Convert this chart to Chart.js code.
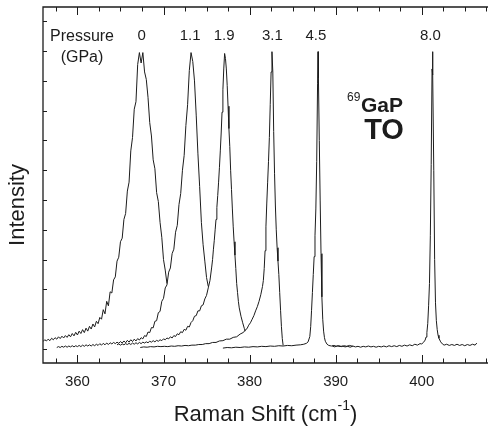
<!DOCTYPE html>
<html>
<head>
<meta charset="utf-8">
<script src="https://cdn.jsdelivr.net/npm/chart.js@4.4.0/dist/chart.umd.min.js"></script>
<style>
  html, body { margin: 0; padding: 0; background: #fff; }
</style>
</head>
<body>
<canvas id="chart" width="488" height="433"></canvas>
<script>
const FONT = '"Liberation Sans", Arial, Helvetica, sans-serif';
const INK = '#1c1c1c';

// pressure (GPa) of each spectrum and where its label sits
const pressures = ['0', '1.1', '1.9', '3.1', '4.5', '8.0'];
const labelShift = [367.45, 373.1, 377.05, 382.65, 387.7, 401.0];
const labelY = 10.5;

const xTicks = [360, 370, 380, 390, 400];

// 0 GPa
const shift0 = [356.0,356.2,356.4,356.6,356.8,357.0,357.2,357.4,357.6,357.8,
  358.0,358.2,358.4,358.6,358.8,359.0,359.2,359.4,359.6,359.8,
  360.0,360.2,360.4,360.6,360.8,361.0,361.2,361.4,361.6,361.8,
  362.0,362.2,362.4,362.6,362.8,363.0,363.2,363.4,363.6,363.8,
  364.0,364.2,364.4,364.6,364.8,365.0,365.2,365.4,365.6,365.8,
  366.0,366.2,366.4,366.6,366.8,367.0,367.2,367.4,367.6,367.8,
  368.0,368.2,368.4,368.6,368.8,369.0,369.2,369.4,369.6,369.8,
  370.0,370.2,370.4];
const int0 = [0.25,0.31,0.27,0.33,0.28,0.36,0.31,0.38,0.33,0.41,
  0.35,0.43,0.37,0.45,0.39,0.48,0.41,0.52,0.44,0.56,
  0.47,0.60,0.52,0.65,0.55,0.70,0.60,0.76,0.67,0.84,
  0.74,0.93,0.85,1.06,1.00,1.32,1.18,1.60,1.45,1.92,
  1.88,2.32,2.42,2.95,3.08,3.60,3.72,4.35,4.55,5.30,
  5.60,6.65,7.10,8.05,8.30,9.55,9.95,9.60,9.95,9.30,
  9.05,8.45,7.60,7.15,6.35,6.05,5.25,4.95,4.25,3.75,
  3.00,2.65,2.20];

// 1.1 GPa
const shift1 = [357.6,357.8,358.0,358.2,358.4,358.6,358.8,359.0,359.2,359.4,
  359.6,359.8,360.0,360.2,360.4,360.6,360.8,361.0,361.2,361.4,
  361.6,361.8,362.0,362.2,362.4,362.6,362.8,363.0,363.2,363.4,
  363.6,363.8,364.0,364.2,364.4,364.6,364.8,365.0,365.2,365.4,
  365.6,365.8,366.0,366.2,366.4,366.6,366.8,367.0,367.2,367.4,
  367.6,367.8,368.0,368.2,368.4,368.6,368.8,369.0,369.2,369.4,
  369.6,369.8,370.0,370.2,370.4,370.6,370.8,371.0,371.2,371.4,
  371.6,371.8,372.0,372.2,372.4,372.6,372.8,373.0,373.2,373.4,
  373.6,373.8,374.0,374.2,374.4,374.6,374.8,375.0,375.2];
const int1 = [0.05,0.08,0.05,0.09,0.06,0.10,0.06,0.10,0.07,0.11,
  0.07,0.11,0.08,0.12,0.08,0.13,0.09,0.14,0.10,0.14,
  0.10,0.15,0.11,0.16,0.12,0.18,0.13,0.19,0.14,0.20,
  0.15,0.21,0.17,0.22,0.18,0.23,0.19,0.25,0.20,0.27,
  0.21,0.29,0.23,0.31,0.25,0.33,0.27,0.35,0.30,0.38,
  0.34,0.45,0.42,0.57,0.55,0.72,0.71,0.93,0.95,1.22,
  1.26,1.60,1.70,2.05,2.15,2.58,2.72,3.20,3.35,3.92,
  4.15,4.85,5.22,6.00,6.50,7.50,8.20,9.35,9.95,9.65,
  9.00,7.85,6.55,5.45,4.25,3.50,2.95,2.40,2.10];

// 1.9 GPa
const shift2 = [364.6,364.8,365.0,365.2,365.4,365.6,365.8,366.0,366.2,366.4,
  366.6,366.8,367.0,367.2,367.4,367.6,367.8,368.0,368.2,368.4,
  368.6,368.8,369.0,369.2,369.4,369.6,369.8,370.0,370.2,370.4,
  370.6,370.8,371.0,371.2,371.4,371.6,371.8,372.0,372.2,372.4,
  372.6,372.8,373.0,373.2,373.4,373.6,373.8,374.0,374.2,374.4,
  374.6,374.8,375.0,375.2,375.4,375.6,
  375.7,375.8,375.9,376.0,376.1,376.2,376.3,376.4,376.5,376.6,
  376.7,376.8,376.9,377.0,377.1,377.2,377.3,377.4,377.5,377.6,
  377.7,377.8,377.9,378.0,378.1,378.2,378.3,378.4,378.5,378.6,
  378.7,378.8,
  379.0,379.2,379.4,379.5];
const int2 = [0.14,0.17,0.13,0.17,0.14,0.18,0.15,0.19,0.15,0.20,
  0.16,0.21,0.17,0.22,0.18,0.23,0.20,0.24,0.21,0.26,
  0.23,0.28,0.24,0.29,0.26,0.31,0.28,0.34,0.31,0.37,
  0.34,0.41,0.37,0.45,0.42,0.51,0.48,0.58,0.55,0.66,
  0.63,0.76,0.74,0.89,0.95,1.10,1.12,1.28,1.28,1.45,
  1.48,1.68,1.80,2.05,2.30,2.75,
  3.00,3.35,3.65,4.00,4.35,4.75,5.15,5.60,6.10,6.65,
  7.25,7.95,8.70,9.40,9.92,9.75,9.40,8.85,8.15,7.40,
  6.80,6.00,5.35,4.70,4.10,3.60,3.15,2.70,2.20,1.90,
  1.60,1.38,
  1.10,0.88,0.68,0.60];

// 3.1 GPa
const shift3 = [367.3,367.7,368.1,368.5,368.9,369.3,369.7,370.1,370.5,370.9,
  371.3,371.7,372.1,372.5,372.9,373.3,373.7,374.1,374.5,374.9,
  375.3,375.7,376.1,376.5,376.9,377.3,377.7,378.1,378.5,378.9,
  379.3,379.5,379.7,379.9,380.1,380.3,380.5,380.7,380.9,381.1,
  381.3,381.5,381.6,381.7,381.8,381.9,382.0,382.1,382.2,382.3,
  382.4,382.5,382.6,382.7,382.8,382.9,383.0,383.1,383.2,383.3,
  383.4,383.5,383.6,383.7,383.8,383.9];
const int3 = [0.05,0.07,0.06,0.08,0.07,0.09,0.08,0.09,0.08,0.10,
  0.09,0.11,0.10,0.12,0.11,0.13,0.13,0.15,0.15,0.18,
  0.18,0.22,0.22,0.27,0.28,0.33,0.33,0.39,0.41,0.50,
  0.56,0.64,0.68,0.80,0.88,1.00,1.12,1.28,1.42,1.60,
  1.82,2.10,2.30,2.70,3.30,4.10,4.90,5.60,6.30,7.10,
  8.20,9.30,9.98,9.30,7.30,5.90,4.80,4.00,3.40,2.95,
  2.50,1.90,1.30,0.75,0.35,0.12];

// 4.5 GPa
const shift4 = [376.9,377.4,377.9,378.4,378.9,379.4,379.9,380.4,380.9,381.4,
  381.9,382.4,382.9,383.4,383.9,384.4,384.9,385.4,385.9,386.3,
  386.6,386.8,387.0,387.1,387.2,387.3,387.4,387.5,387.6,387.7,
  387.8,387.9,387.95,388.0,388.1,388.2,388.3,388.4,388.5,388.6,
  388.7,388.8,389.0,389.2,389.5,389.8,390.1,390.4,390.7,391.0,
  391.3,391.6,392.0];
const int4 = [0.03,0.05,0.04,0.06,0.05,0.07,0.06,0.08,0.07,0.09,
  0.08,0.10,0.09,0.11,0.10,0.12,0.11,0.13,0.14,0.16,
  0.19,0.24,0.42,0.75,1.30,1.90,2.50,3.10,3.80,4.70,
  6.30,8.90,9.98,9.10,7.00,5.00,3.20,1.75,1.00,0.60,
  0.38,0.26,0.16,0.12,0.10,0.12,0.09,0.11,0.08,0.11,
  0.09,0.12,0.09];

// 8.0 GPa
const shift5 = [389.6,389.9,390.2,390.5,390.8,391.1,391.4,391.7,392.0,392.3,
  392.6,392.9,393.2,393.5,393.8,394.1,394.4,394.7,395.0,395.3,
  395.6,395.9,396.2,396.5,396.8,397.1,397.4,397.7,398.0,398.3,
  398.6,398.9,399.2,399.5,399.8,400.0,400.2,400.4,400.5,400.6,
  400.7,400.8,400.9,401.0,401.1,401.2,401.25,401.3,401.4,401.5,
  401.6,401.7,401.8,401.9,402.0,402.2,402.4,402.6,402.9,403.2,
  403.5,403.8,404.1,404.4,404.7,405.0,405.3,405.6,405.9,406.2,
  406.4];
const int5 = [0.10,0.07,0.11,0.08,0.10,0.07,0.09,0.06,0.10,0.07,
  0.09,0.06,0.09,0.07,0.10,0.07,0.09,0.06,0.09,0.07,
  0.10,0.07,0.11,0.08,0.11,0.08,0.12,0.09,0.13,0.10,
  0.14,0.11,0.16,0.13,0.18,0.17,0.22,0.30,0.40,0.55,
  0.85,1.45,2.20,3.80,6.20,9.40,9.98,9.20,6.00,3.00,
  1.55,0.95,0.65,0.46,0.36,0.24,0.17,0.13,0.16,0.12,
  0.15,0.12,0.16,0.12,0.15,0.11,0.15,0.12,0.16,0.13,
  0.20];

const spectra = [
  [shift0, int0], [shift1, int1], [shift2, int2],
  [shift3, int3], [shift4, int4], [shift5, int5]
];

// frame with inward ticks on bottom, top and left
const frame = {
  id: 'frame',
  afterDraw(chart) {
    const {ctx, chartArea: a, scales: {x, y}} = chart;
    ctx.save();
    ctx.strokeStyle = INK;
    ctx.lineWidth = 1.3;
    ctx.beginPath();
    ctx.moveTo(a.right, a.top);
    ctx.lineTo(a.left, a.top);
    ctx.lineTo(a.left, a.bottom);
    ctx.lineTo(a.right, a.bottom);
    ctx.stroke();

    ctx.lineWidth = 1;
    ctx.beginPath();
    for (let k = 0; k <= 20; k++) {
      const v = 357.5 + 2.5 * k;
      const px = Math.round(x.getPixelForValue(v)) + 0.5;
      const len = v % 10 === 0 ? 8 : 4.5;
      ctx.moveTo(px, a.bottom);
      ctx.lineTo(px, a.bottom - len);
      ctx.moveTo(px, a.top);
      ctx.lineTo(px, a.top + len);
    }
    for (let v = 0; v <= 11; v++) {
      const py = Math.round(y.getPixelForValue(v)) + 0.5;
      ctx.moveTo(a.left, py);
      ctx.lineTo(a.left + 4, py);
    }
    ctx.stroke();
    ctx.restore();
  }
};

// labels and axis titles
const notes = {
  id: 'notes',
  afterDraw(chart) {
    const {ctx, chartArea: a, scales: {x, y}} = chart;
    ctx.save();
    ctx.fillStyle = INK;
    ctx.textAlign = 'center';
    ctx.textBaseline = 'middle';

    ctx.font = '15px ' + FONT;
    const ly = y.getPixelForValue(labelY);
    pressures.forEach((p, i) => ctx.fillText(p, x.getPixelForValue(labelShift[i]), ly));
    ctx.font = '16px ' + FONT;
    ctx.fillText('Pressure', 82, ly);
    ctx.fillText('(GPa)', 82, ly + 21);

    // sample name
    ctx.textAlign = 'left';
    ctx.font = '12px ' + FONT;
    ctx.fillText('69', 347, 98);
    ctx.font = 'bold 21px ' + FONT;
    ctx.fillText('GaP', 361, 106);
    ctx.font = 'bold 29px ' + FONT;
    ctx.textAlign = 'center';
    ctx.fillText('TO', 384, 131);

    // x title with superscript
    const cx = (a.left + a.right) / 2;
    const t1 = 'Raman Shift (cm', sup = '-1', t2 = ')';
    ctx.font = '22px ' + FONT;
    const w1 = ctx.measureText(t1).width;
    const w2 = ctx.measureText(t2).width;
    ctx.font = '14px ' + FONT;
    const ws = ctx.measureText(sup).width;
    const left = cx - (w1 + ws + w2) / 2;
    ctx.textAlign = 'left';
    ctx.font = '22px ' + FONT;
    ctx.fillText(t1, left, 415);
    ctx.fillText(t2, left + w1 + ws, 415);
    ctx.font = '14px ' + FONT;
    ctx.fillText(sup, left + w1, 406);

    // y title
    ctx.translate(18, 205);
    ctx.rotate(-Math.PI / 2);
    ctx.textAlign = 'center';
    ctx.font = '22px ' + FONT;
    ctx.fillText('Intensity', 0, 0);
    ctx.restore();
  }
};

new Chart(document.getElementById('chart').getContext('2d'), {
  type: 'line',
  data: {
    datasets: spectra.map(([xs, ys]) => ({
      data: xs.map((v, i) => ({x: v, y: ys[i]})),
      borderColor: INK,
      borderWidth: 1,
      borderJoinStyle: 'bevel',
      pointRadius: 0,
      fill: false,
      tension: 0
    }))
  },
  options: {
    responsive: false,
    animation: false,
    layout: { padding: { left: 43, top: 7, right: 0, bottom: 43 } },
    plugins: { legend: { display: false }, tooltip: { enabled: false } },
    scales: {
      x: {
        type: 'linear',
        min: 356,
        max: 407.7,
        grid: { display: false, drawTicks: false },
        border: { display: false },
        afterFit: s => { s.height = 27; },
        ticks: {
          stepSize: 10,
          includeBounds: false,
          autoSkip: false,
          maxRotation: 0,
          padding: 10,
          color: INK,
          font: { family: FONT, size: 15 },
          callback: v => xTicks.includes(v) ? String(v) : ''
        }
      },
      y: { display: false, min: -0.47, max: 11.48 }
    }
  },
  plugins: [frame, notes]
});
</script>
</body>
</html>
